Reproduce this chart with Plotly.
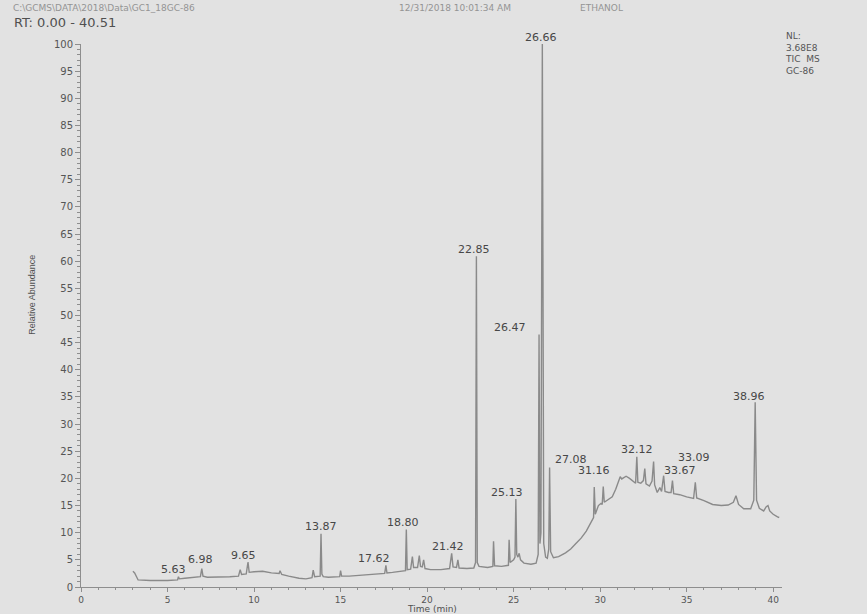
import plotly.graph_objects as go

# Total ion chromatogram (TIC), retention time in minutes vs relative abundance (%)
rt_min = [
    3.00, 3.10, 3.30, 4.00, 5.00, 5.50, 5.58, 5.63, 5.68, 6.00, 6.50, 6.90, 6.98, 7.05,
    7.30, 8.00, 8.60, 9.10, 9.20, 9.28, 9.55, 9.65, 9.72, 10.00, 10.50, 11.00, 11.45,
    11.50, 11.60, 12.00, 12.60, 13.00, 13.35, 13.42, 13.50, 13.82, 13.87, 13.92, 14.00,
    14.30, 14.95, 15.00, 15.06, 15.50, 16.00, 16.50, 17.00, 17.55, 17.62, 17.68, 18.00,
    18.50, 18.75, 18.80, 18.85, 19.05, 19.15, 19.22, 19.45, 19.55, 19.62, 19.72, 19.80,
    19.88, 20.20, 20.80, 21.30, 21.42, 21.50, 21.70, 21.78, 21.85, 22.30, 22.70, 22.80,
    22.85, 22.90, 23.00, 23.50, 23.80, 23.84, 23.90, 24.30, 24.70, 24.74, 24.80, 25.00,
    25.08, 25.13, 25.18, 25.25, 25.32, 25.40, 25.60, 26.00, 26.30, 26.42, 26.47, 26.52,
    26.58, 26.66, 26.74, 26.85, 26.95, 27.03, 27.08, 27.14, 27.30, 27.60, 28.00, 28.30,
    28.60, 28.90, 29.20, 29.50, 29.62, 29.66, 29.72, 29.90, 30.05, 30.12, 30.18, 30.24,
    30.50, 30.70, 30.90, 31.10, 31.16, 31.25, 31.50, 31.70, 31.90, 32.05, 32.12, 32.18,
    32.35, 32.50, 32.58, 32.65, 32.85, 33.00, 33.09, 33.15, 33.30, 33.45, 33.55, 33.67,
    33.75, 33.95, 34.10, 34.18, 34.25, 34.60, 35.00, 35.40, 35.50, 35.58, 36.00, 36.50,
    37.00, 37.40, 37.70, 37.85, 38.00, 38.30, 38.70, 38.88, 38.96, 39.04, 39.20, 39.45,
    39.60, 39.70, 39.80, 40.00, 40.25, 40.35,
]
abundance = [
    2.9, 2.6, 1.3, 1.2, 1.2, 1.3, 1.3, 1.9, 1.5, 1.6, 1.8, 1.9, 3.4, 2.0,
    1.8, 1.8, 1.9, 2.0, 3.2, 2.3, 2.4, 4.6, 2.7, 2.8, 2.9, 2.6, 2.5,
    3.0, 2.3, 2.0, 1.6, 1.5, 1.7, 3.1, 1.9, 2.0, 9.8, 2.4, 1.9,
    1.8, 1.9, 3.0, 2.0, 2.0, 2.1, 2.2, 2.4, 2.5, 4.0, 2.6, 2.7,
    2.9, 3.0, 10.6, 3.2, 3.3, 5.6, 3.6, 3.6, 5.8, 3.8, 3.7, 5.0,
    3.4, 3.2, 3.2, 3.4, 6.2, 3.7, 3.6, 5.0, 3.5, 3.4, 3.5, 4.5,
    60.9, 4.5, 3.8, 3.6, 3.8, 8.4, 3.9, 3.8, 4.0, 8.7, 4.5, 5.0,
    5.5, 16.2, 6.0, 5.5, 6.2, 5.0, 4.4, 4.2, 4.4, 6.0, 46.5, 8.0,
    10.0, 100.0, 8.0, 5.5, 5.3, 7.0, 22.0, 6.5, 5.4, 5.6, 6.3, 7.0,
    8.0, 9.0, 10.3, 12.2, 12.8, 18.4, 13.4, 15.0, 15.4, 15.2, 18.5, 15.6,
    16.2, 16.6, 18.0, 19.6, 20.3, 19.9, 20.4, 20.0, 19.4, 19.1, 24.0, 19.3,
    19.1, 19.6, 21.8, 19.0, 18.6, 19.5, 23.1, 18.8, 17.4, 18.3, 17.6, 20.5,
    17.6, 17.4, 17.4, 19.6, 17.2, 17.0, 16.6, 16.3, 19.3, 16.4, 15.9, 15.2,
    15.0, 15.1, 15.6, 16.8, 15.2, 14.4, 14.4, 16.0, 34.0, 16.0, 14.5, 14.0,
    14.8, 15.0, 14.0, 13.4, 12.9, 12.8,
]

# Labelled peaks: retention time text and apex abundance
peak_rt = [5.63, 6.98, 9.65, 13.87, 17.62, 18.80, 21.42, 22.85, 25.13,
           26.47, 26.66, 27.08, 31.16, 32.12, 33.09, 33.67, 38.96]
peak_abundance = [1.9, 3.4, 4.6, 9.8, 4.0, 10.6, 6.2, 60.9, 16.2,
                  46.5, 100.0, 22.0, 20.3, 24.0, 23.1, 20.5, 34.0]

x_ticks = [0, 5, 10, 15, 20, 25, 30, 35, 40]
y_ticks = list(range(0, 101, 5))

# Pixel offsets (dx, dy) of each peak label from its apex, to keep labels apart
label_offsets = {
    5.63: (-5, 7), 6.98: (-1, 9), 9.65: (-4, 7), 13.87: (0, 7), 17.62: (-12, 7),
    18.80: (-3, 7), 21.42: (-4, 7), 22.85: (-2, 7), 25.13: (-9, 7), 26.47: (-29, 7),
    26.66: (-1, 7), 27.08: (21, 8), 31.16: (-26, 6), 32.12: (0, 7), 33.09: (40, 4),
    33.67: (16, 5), 38.96: (-6, 6),
}

BG = "#e2e2e2"
TRACE = "#8a8a8a"
AXIS = "#8e8e8e"
TEXT = "#555555"
LABEL = "#474747"
FONT = "DejaVu Sans"

fig = go.Figure()
fig.add_trace(go.Scatter(
    x=rt_min, y=abundance, mode="lines",
    line=dict(color=TRACE, width=1.4),
    hoverinfo="x+y", showlegend=False,
))

annotations = []
for rt, ab in zip(peak_rt, peak_abundance):
    dx, dy = label_offsets[rt]
    annotations.append(dict(
        x=rt, y=ab, xref="x", yref="y", text=f"{rt:.2f}", showarrow=False,
        xanchor="center", yanchor="middle", xshift=dx, yshift=dy,
        font=dict(family=FONT, size=11, color=LABEL),
    ))

# Header lines and instrument info
annotations += [
    dict(x=-0.1, y=1.066, xref="paper", yref="paper", xanchor="left", yanchor="middle",
         text="C:\\GCMS\\DATA\\2018\\Data\\GC1_18GC-86", showarrow=False,
         font=dict(family=FONT, size=9, color="#949494")),
    dict(x=0.533, y=1.066, xref="paper", yref="paper", xanchor="center", yanchor="middle",
         text="12/31/2018 10:01:34 AM", showarrow=False,
         font=dict(family=FONT, size=9, color="#949494")),
    dict(x=0.743, y=1.066, xref="paper", yref="paper", xanchor="center", yanchor="middle",
         text="ETHANOL", showarrow=False,
         font=dict(family=FONT, size=9, color="#949494")),
    dict(x=-0.0984, y=1.0405, xref="paper", yref="paper", xanchor="left", yanchor="middle",
         text="RT: 0.00 - 40.51", showarrow=False,
         font=dict(family=FONT, size=13, color="#505050")),
    dict(x=1.0, y=1.027, xref="paper", yref="paper", xanchor="left", yanchor="top",
         xshift=1, align="left", text="NL:<br>3.68E8<br>TIC  MS<br>GC-86", showarrow=False,
         font=dict(family=FONT, size=9, color="#555555")),
    dict(x=0.5, y=-0.0405, xref="paper", yref="paper", xanchor="center", yanchor="middle",
         text="Time (min)", showarrow=False,
         font=dict(family=FONT, size=9, color="#505050")),
    dict(x=-0.0699, y=0.538, xref="paper", yref="paper", xanchor="center", yanchor="middle",
         text="Relative Abundance", textangle=-90, showarrow=False,
         font=dict(family="Liberation Sans", size=9, color="#505050")),
]

fig.update_layout(
    width=867, height=614,
    margin=dict(l=81, r=85, t=44, b=27),
    paper_bgcolor=BG, plot_bgcolor=BG,
    annotations=annotations,
    xaxis=dict(
        range=[0, 40.51], tickvals=x_ticks, ticktext=[str(v) for v in x_ticks],
        showline=True, linecolor=AXIS, linewidth=1, showgrid=False, zeroline=False,
        ticks="outside", ticklen=4, tickcolor=AXIS, automargin=False,
        tickfont=dict(family=FONT, size=9, color=TEXT),
        minor=dict(dtick=1, tick0=0, ticks="outside", ticklen=2, tickcolor=AXIS, showgrid=False),
    ),
    yaxis=dict(
        range=[0, 100], tickvals=y_ticks, ticktext=[str(v) for v in y_ticks],
        showline=True, linecolor=AXIS, linewidth=1, showgrid=False, zeroline=False,
        ticks="outside", ticklen=5, tickcolor=AXIS, automargin=False,
        tickfont=dict(family=FONT, size=10, color=TEXT),
        minor=dict(dtick=1, tick0=0, ticks="outside", ticklen=3, tickcolor=AXIS, showgrid=False),
    ),
)

fig.write_html("out.html")
